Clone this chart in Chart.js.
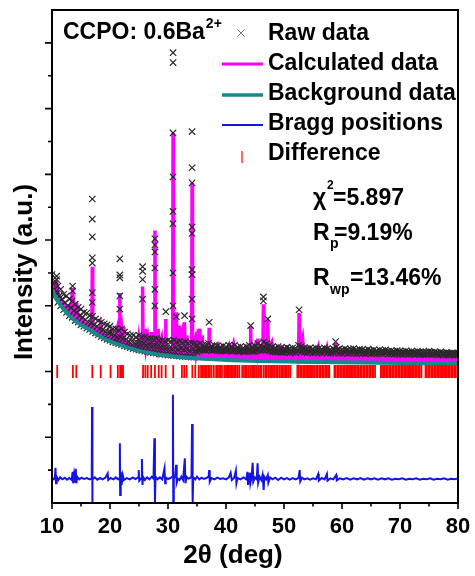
<!DOCTYPE html>
<html>
<head>
<meta charset="utf-8">
<script src="https://cdn.jsdelivr.net/npm/chart.js@4.4.1/dist/chart.umd.min.js"></script>
<style>
  html, body { margin: 0; padding: 0; background: #fff; }
  #wrap { width: 475px; height: 576px; }
</style>
</head>
<body>
<div id="wrap"><canvas id="c" width="475" height="576"></canvas></div>
<script>
// ---------- axis ticks ----------
const xMajorTicks = [10, 20, 30, 40, 50, 60, 70, 80];
const xMinorTicks = [15, 25, 35, 45, 55, 65, 75];
const yMajorTicks = [2, 4, 6, 8, 10, 12, 14];
const yMinorTicks = [1, 3, 5, 7, 9, 11, 13];

// ---------- Raw data (dense band: low / high / middle scatter levels) ----------
const rawBandX = [10,10.5,11,11.5,12,12.5,13,13.5,14,14.5,15,15.5,16,16.5,17,17.5,18,18.5,19,19.5,
  20,20.5,21,21.5,22,22.5,23,23.5,24,24.5,25,25.5,26,26.5,27,27.5,28,28.5,29,29.5,
  30,30.5,31,31.5,32,32.5,33,33.5,34,34.5,35,35.5,36,36.5,37,37.5,38,38.5,39,39.5,
  40,40.5,41,41.5,42,42.5,43,43.5,44,44.5,45,45.5,46,46.5,47,47.5,48,48.5,49,49.5,
  50,50.5,51,51.5,52,52.5,53,53.5,54,54.5,55,55.5,56,56.5,57,57.5,58,58.5,59,59.5,
  60,60.5,61,61.5,62,62.5,63,63.5,64,64.5,65,65.5,66,66.5,67,67.5,68,68.5,69,69.5,
  70,70.5,71,71.5,72,72.5,73,73.5,74,74.5,75,75.5,76,76.5,77,77.5,78,78.5,79,79.5,80];
const rawBandLo = [6.45,6.3,6.1,6.0,5.88,5.8,5.7,5.65,5.55,5.5,5.42,5.38,5.32,5.28,5.22,5.17,5.12,5.06,5.02,4.98,
  4.95,4.9,4.88,4.85,4.82,4.78,4.76,4.73,4.7,4.68,4.66,4.64,4.62,4.6,4.58,4.57,4.56,4.54,4.53,4.52,
  4.5,4.5,4.49,4.48,4.47,4.46,4.46,4.45,4.44,4.44,4.6,4.65,4.65,4.65,4.66,4.64,4.65,4.63,4.62,4.64,
  4.62,4.64,4.62,4.63,4.61,4.62,4.6,4.62,4.63,4.6,4.62,4.65,4.63,4.66,4.65,4.62,4.6,4.59,4.6,4.58,
  4.58,4.59,4.57,4.58,4.57,4.62,4.6,4.58,4.57,4.58,4.56,4.58,4.57,4.56,4.58,4.57,4.55,4.57,4.58,4.56,
  4.55,4.57,4.55,4.56,4.56,4.54,4.56,4.55,4.54,4.56,4.54,4.55,4.53,4.55,4.54,4.55,4.53,4.54,4.52,4.54,
  4.53,4.52,4.53,4.52,4.53,4.51,4.53,4.52,4.51,4.52,4.53,4.51,4.52,4.5,4.52,4.5,4.51,4.5,4.51,4.5,4.51];
const rawBandHi = [6.95,6.75,6.6,6.5,6.35,6.3,6.2,6.15,6.05,5.95,5.9,5.8,5.78,5.7,5.68,5.6,5.55,5.5,5.45,5.42,
  5.38,5.3,5.3,5.25,5.3,5.2,5.15,5.1,5.1,5.05,5.1,5.05,5.05,5.0,5.0,4.98,5.0,4.95,4.95,4.92,
  4.95,4.92,4.95,4.9,4.92,4.88,4.9,4.86,4.88,4.85,4.82,4.85,4.8,4.82,4.85,4.78,4.8,4.78,4.75,4.78,
  4.75,4.8,4.76,4.8,4.74,4.76,4.72,4.76,4.8,4.74,4.78,4.85,4.8,4.9,4.85,4.8,4.75,4.72,4.76,4.72,
  4.7,4.74,4.7,4.72,4.7,4.8,4.76,4.72,4.7,4.72,4.68,4.72,4.7,4.68,4.72,4.7,4.66,4.7,4.74,4.68,
  4.66,4.7,4.66,4.68,4.7,4.65,4.68,4.66,4.64,4.68,4.64,4.66,4.62,4.66,4.64,4.66,4.62,4.64,4.6,4.64,
  4.62,4.6,4.63,4.6,4.62,4.58,4.62,4.6,4.58,4.6,4.62,4.58,4.6,4.57,4.6,4.56,4.58,4.55,4.57,4.55,4.56];
const rawMidX = [10.25,10.75,11.25,11.75,12.25,12.75,13.25,13.75,14.25,14.75,15.25,15.75,16.25,16.75,17.25,17.75,18.25,18.75,19.25,19.75,
  20.25,20.75,21.25,21.75,22.25,22.75,23.25,23.75,24.25,24.75,25.25,25.75,26.25,26.75,27.25,27.75,28.25,28.75,29.25,29.75,
  30.25,30.75,31.25,31.75,32.25,32.75,33.25,33.75,34.25,34.75,35.25,35.75,36.25,36.75,37.25,37.75,38.25,38.75,39.25,39.75,
  40.25,40.75,41.25,41.75,42.25,42.75,43.25,43.75,44.25,44.75,45.25,45.75,46.25,46.75,47.25,47.75,48.25,48.75,49.25,49.75,
  50.25,50.75,51.25,51.75,52.25,52.75,53.25,53.75,54.25,54.75,55.25,55.75,56.25,56.75,57.25,57.75,58.25,58.75,59.25,59.75,
  60.25,60.75,61.25,61.75,62.25,62.75,63.25,63.75,64.25,64.75,65.25,65.75,66.25,66.75,67.25,67.75,68.25,68.75,69.25,69.75,
  70.25,70.75,71.25,71.75,72.25,72.75,73.25,73.75,74.25,74.75,75.25,75.75,76.25,76.75,77.25,77.75,78.25,78.75,79.25,79.75];
const rawMidY = [6.65,6.45,6.3,6.2,6.1,6.0,5.95,5.85,5.8,5.7,5.65,5.58,5.5,5.48,5.42,5.38,5.3,5.27,5.22,5.2,
  5.12,5.1,5.05,5.05,5.0,4.98,4.92,4.92,4.88,4.87,4.85,4.84,4.8,4.8,4.78,4.78,4.76,4.74,4.73,4.72,
  4.72,4.7,4.72,4.68,4.7,4.67,4.68,4.65,4.66,4.64,4.66,4.68,4.66,4.69,4.7,4.66,4.68,4.65,4.64,4.66,
  4.64,4.67,4.64,4.66,4.62,4.64,4.61,4.64,4.67,4.62,4.65,4.7,4.67,4.73,4.7,4.66,4.62,4.61,4.63,4.6,
  4.65,4.67,4.64,4.66,4.64,4.72,4.69,4.66,4.64,4.66,4.63,4.66,4.64,4.63,4.66,4.64,4.61,4.64,4.67,4.63,
  4.62,4.64,4.61,4.63,4.64,4.6,4.63,4.61,4.6,4.63,4.6,4.61,4.58,4.61,4.6,4.61,4.58,4.6,4.57,4.6,
  4.58,4.57,4.59,4.57,4.58,4.56,4.58,4.57,4.56,4.57,4.58,4.56,4.57,4.55,4.57,4.55,4.56,4.54,4.55,4.54];
// Raw data points standing above the band on the peaks
const rawPeakX = [10.8,10.8,13.55,13.55,16.95,16.95,16.95,16.95,16.95,16.95,16.95,20.1,
  21.7,21.7,21.7,21.7,21.7,25.62,25.62,25.62,25.62,27.75,27.75,27.75,27.75,27.75,27.75,29.62,
  30.87,30.87,30.87,30.87,30.87,30.87,30.87,30.87,31.45,32.85,
  34.15,34.15,34.15,34.15,34.15,34.15,34.15,34.15,34.15,37.1,44.25,46.45,46.45,47.2,52.6,58.9];
const rawPeakY = [6.9,6.8,6.6,6.45,9.25,8.64,8.1,7.46,7.3,6.4,6.1,5.2,
  7.43,6.94,6.85,6.3,5.9,7.19,7.05,6.8,6.2,8.04,7.85,7.64,7.15,6.5,6.0,5.82,
  13.7,13.4,11.26,9.92,8.87,8.5,7.0,6.0,5.67,5.7,
  11.3,10.2,9.74,8.4,8.2,7.1,6.95,6.2,5.6,5.5,5.4,6.27,6.15,5.6,5.88,4.91];

// ---------- Calculated profile ----------
const calcX = [10.0,10.3,10.55,10.7,10.8,10.9,11.2,11.6,12.0,12.5,
  13.0,13.3,13.45,13.55,13.65,13.9,14.15,14.25,14.4,14.8,
  15.3,15.8,16.3,16.87,16.95,17.03,17.6,18.2,18.4,18.6,
  19.2,19.8,20.1,20.3,20.8,21.25,21.4,21.63,21.7,21.77,
  22.0,22.1,22.25,22.4,23.0,23.6,24.2,24.8,24.95,25.1,
  25.55,25.62,25.69,26.1,26.25,26.5,26.65,27.0,27.1,27.2,
  27.68,27.75,27.82,28.3,28.45,28.9,29.05,29.56,29.62,29.68,
  30.3,30.8,30.87,30.94,31.39,31.45,31.51,32.0,32.15,32.4,
  32.55,32.85,32.95,33.25,33.4,34.08,34.15,34.22,34.7,34.85,
  35.35,35.5,35.9,36.05,36.6,37.03,37.1,37.17,37.8,38.1,
  38.6,38.9,39.5,39.8,40.5,40.8,41.3,41.6,42.3,42.6,
  43.4,44.17,44.25,44.33,45.0,45.3,45.5,45.7,46.37,46.45,
  46.55,47.12,47.2,47.3,47.9,48.2,48.8,49.0,49.7,50.0,
  50.6,50.9,51.5,52.52,52.6,52.68,53.2,53.4,54.0,54.3,
  55.0,55.4,55.9,56.1,56.8,57.1,57.4,57.6,58.8,58.9,
  59.0,59.8,60.2,61.0,61.4,62.0,62.4,63.0,63.4,64.2,
  64.6,65.3,65.7,66.5,67.2,67.6,68.4,68.8,69.5,69.9,
  70.7,71.1,71.9,72.3,73.2,73.6,74.5,75.3,75.7,76.6,
  77.0,77.9,78.4,79.2,80.0];
const calcY = [6.75,6.55,6.5,6.6,6.77,6.5,6.3,6.2,6.05,5.95,
  5.85,5.95,6.3,6.54,6.2,5.95,6.05,6.1,5.8,5.62,
  5.55,5.45,5.42,5.38,7.19,5.35,5.3,5.22,5.4,5.18,
  5.1,5.04,5.2,5.0,4.97,5.3,4.98,5.0,6.39,5.0,
  5.25,4.95,5.35,4.92,4.86,4.82,4.78,4.78,5.0,4.75,
  4.75,6.59,4.8,5.3,4.75,5.0,4.72,4.75,5.2,4.72,
  4.72,8.29,4.75,5.3,4.7,5.0,4.7,4.75,5.6,4.7,
  4.68,4.7,11.26,4.8,4.75,5.8,4.75,5.4,4.68,5.0,
  4.66,5.5,4.66,5.1,4.65,4.65,9.74,4.7,5.0,4.63,
  5.3,4.62,5.1,4.6,4.75,4.6,5.33,4.6,4.75,4.58,
  4.78,4.57,4.7,4.56,4.8,4.55,4.85,4.55,4.7,4.54,
  4.75,4.53,5.36,4.53,4.8,4.55,5.0,4.55,4.65,6.05,
  4.7,4.7,5.57,4.7,4.9,4.55,4.75,4.75,4.75,4.52,
  4.7,4.52,4.6,4.5,5.78,4.6,5.0,4.5,4.7,4.5,
  4.6,4.5,4.75,4.48,4.62,4.48,4.7,4.48,4.55,4.87,
  4.5,4.6,4.47,4.65,4.47,4.6,4.46,4.62,4.46,4.6,
  4.45,4.58,4.45,4.5,4.62,4.44,4.56,4.44,4.6,4.43,
  4.55,4.43,4.58,4.42,4.55,4.42,4.5,4.56,4.42,4.55,
  4.41,4.5,4.41,4.5,4.42];

// ---------- Background ----------
const bgX = [10,10.5,11,12,13,14,15,16,17,18,19,20,21,22,23,24,25,26,27,28,29,30,32,34,36,38,40,44,48,52,60,70,80];
const bgY = [6.5,6.3,6.15,5.9,5.7,5.54,5.42,5.32,5.21,5.1,5.0,4.92,4.85,4.79,4.73,4.68,4.63,4.59,4.56,4.53,4.5,4.48,4.44,4.41,4.39,4.37,4.35,4.33,4.31,4.3,4.28,4.26,4.25];

// ---------- Bragg reflections ----------
const braggX = [10.9,13.6,14.2,16.95,18.4,20.1,21.35,21.75,22.05,22.25,25.7,26.1,26.5,27.1,27.75,28.4,28.9,29.6,30.9,
  32.4,32.8,33.2,34.2,34.7,35.3,35.7,35.9,36.2,36.4,36.7,37.0,37.2,37.5,37.9,38.3,38.5,38.8,39.0,39.3,39.7,
  40.0,40.2,40.5,40.7,41.0,41.2,41.5,41.7,42.0,42.3,42.8,43.1,43.4,43.6,43.9,44.2,44.5,44.8,45.0,45.3,
  45.6,45.9,46.1,46.5,46.8,47.0,47.3,47.6,47.9,48.1,48.4,48.7,48.9,49.2,49.5,49.7,50.0,50.3,50.5,50.8,
  51.1,52.3,52.5,52.8,53.0,53.3,53.5,53.8,54.0,54.3,54.5,54.8,55.0,55.3,55.6,55.8,56.1,56.3,56.6,56.8,
  57.1,57.3,57.6,57.8,58.7,58.9,59.2,59.4,59.7,59.9,60.2,60.4,60.7,60.9,61.2,61.4,61.7,61.9,62.2,62.4,
  62.7,62.9,63.2,63.4,63.7,63.9,64.2,64.4,64.7,64.9,65.2,65.4,65.7,66.7,66.9,67.2,67.4,67.7,67.9,68.2,
  68.4,68.7,68.9,69.2,69.4,69.7,69.9,70.2,70.4,70.7,70.9,71.2,71.4,71.7,71.9,72.2,72.4,72.7,72.9,73.2,
  73.4,73.7,74.4,74.6,74.9,75.1,75.4,75.6,75.9,76.1,76.4,76.6,76.9,77.1,77.4,77.6,77.9,78.1,78.4,78.6,
  78.9,79.1,79.4,79.6,79.9];
const braggLevel = 4.0;

// ---------- Difference curve ----------
const diffX = [10.0,10.3,10.5,10.6,10.7,10.8,11.1,11.4,11.8,12.2,12.6,13.0,13.4,13.55,13.65,13.8,13.95,14.1,14.2,14.35,
  14.7,15.1,15.5,16.0,16.5,16.85,16.9,16.95,17.0,17.4,17.8,18.3,18.7,19.2,19.6,19.7,20.1,20.6,21.0,21.4,
  21.6,21.7,21.75,21.85,22.0,22.2,22.4,22.9,23.4,23.9,24.4,24.85,24.95,25.05,25.4,25.5,25.6,25.7,26.0,26.4,
  26.8,27.2,27.5,27.65,27.75,27.85,28.2,28.6,29.0,29.4,29.5,29.6,30.0,30.4,30.75,30.85,30.92,31.0,31.25,31.4,
  31.5,31.7,32.0,32.3,32.6,32.9,33.0,33.2,33.5,33.8,34.05,34.15,34.25,34.35,34.7,35.0,35.4,35.8,36.2,36.6,
  37.0,37.1,37.2,37.5,38.0,38.5,39.0,39.5,40.0,40.5,40.8,41.0,41.4,41.7,41.8,42.0,42.5,43.0,43.5,43.7,
  43.8,44.1,44.2,44.4,44.6,44.7,45.0,45.3,45.45,45.55,45.8,46.1,46.3,46.5,46.6,46.9,47.2,47.3,47.6,48.0,
  48.5,49.0,49.5,50.0,50.5,51.0,51.5,52.0,52.5,52.7,52.8,53.1,53.5,54.0,54.5,55.0,55.5,55.9,56.0,56.5,
  57.0,57.4,57.5,58.0,58.5,59.0,59.1,59.6,60.2,60.8,61.4,62.0,62.6,63.2,63.8,64.4,65.0,65.6,66.2,66.8,
  67.4,68.0,68.6,69.2,69.8,70.4,71.0,71.6,72.2,72.8,73.4,74.0,74.6,75.2,75.8,76.4,77.0,77.6,78.2,78.8,
  79.4,80.0];
const diffY = [0.75,0.72,0.78,1.07,0.6,0.8,0.7,0.78,0.72,0.77,0.71,0.76,0.7,0.95,0.6,0.85,0.62,1.04,0.6,0.8,
  0.72,0.77,0.73,0.76,0.72,0.75,2.92,0.0,0.72,0.78,0.71,0.76,0.72,0.77,0.9,0.7,0.76,0.72,0.78,0.72,
  0.75,1.82,0.24,0.95,0.55,0.85,0.7,0.76,0.72,0.77,0.73,0.78,1.0,0.68,0.75,1.34,0.55,0.8,0.7,0.78,
  0.72,0.8,0.74,1.97,0.03,0.8,0.72,0.78,0.72,1.06,0.6,0.78,0.73,0.76,0.8,3.29,-0.3,0.75,0.8,1.16,
  0.62,0.74,0.7,0.8,0.7,1.36,0.6,0.8,0.74,0.76,0.8,2.4,0.03,0.78,0.72,0.8,0.72,0.77,0.73,0.76,
  0.8,1.0,0.65,0.76,0.72,0.77,0.73,0.75,0.72,0.78,0.92,0.7,0.76,0.98,0.6,0.76,0.72,0.78,0.72,0.95,
  0.55,0.92,0.6,0.78,1.22,0.65,0.78,0.72,1.21,0.62,0.8,0.7,0.85,0.4,0.8,0.72,0.85,0.62,0.78,0.72,
  0.77,0.7,0.77,0.72,0.76,0.71,0.76,0.72,0.76,1.0,0.66,0.77,0.72,0.75,0.71,0.75,0.72,0.88,0.68,0.76,
  0.72,0.88,0.68,0.75,0.72,0.85,0.69,0.75,0.72,0.76,0.71,0.75,0.72,0.76,0.71,0.75,0.72,0.75,0.71,0.75,
  0.72,0.75,0.71,0.74,0.72,0.75,0.71,0.74,0.72,0.75,0.71,0.74,0.72,0.75,0.71,0.74,0.72,0.75,0.71,0.74,
  0.72,0.75];

// ---------- build datasets ----------
const pts = (xs, ys) => xs.map((x, i) => ({ x: x, y: ys[i] }));
const rawPoints = pts(rawBandX, rawBandLo).concat(pts(rawBandX, rawBandHi), pts(rawMidX, rawMidY), pts(rawPeakX, rawPeakY));
const braggPoints = braggX.map(x => ({ x: x, y: braggLevel }));

const FONT = '"Liberation Sans", Arial, sans-serif';
const MAGENTA = '#ff00ff', TEAL = '#168a8a', BLUE = '#1414e6', RED = '#ff0000', RAWC = '#2a2a2a';

const decor = {
  id: 'decor',
  afterDraw(chart) {
    const { ctx, chartArea: a, scales: { x, y } } = chart;
    ctx.save();
    // frame
    ctx.strokeStyle = '#000';
    ctx.lineWidth = 2;
    ctx.strokeRect(a.left, a.top, a.right - a.left, a.bottom - a.top);
    // ticks
    ctx.lineWidth = 1.6;
    ctx.beginPath();
    xMajorTicks.forEach(v => { const p = x.getPixelForValue(v); ctx.moveTo(p, a.bottom); ctx.lineTo(p, a.bottom + 6); });
    xMinorTicks.forEach(v => { const p = x.getPixelForValue(v); ctx.moveTo(p, a.bottom); ctx.lineTo(p, a.bottom + 3.5); });
    yMajorTicks.forEach(v => { const p = y.getPixelForValue(v); ctx.moveTo(a.left, p); ctx.lineTo(a.left - 7, p); });
    yMinorTicks.forEach(v => { const p = y.getPixelForValue(v); ctx.moveTo(a.left, p); ctx.lineTo(a.left - 4, p); });
    ctx.stroke();

    ctx.fillStyle = '#000';
    ctx.textBaseline = 'alphabetic';
    ctx.textAlign = 'left';
    // sample label
    ctx.font = 'bold 23px ' + FONT;
    ctx.fillText('CCPO: 0.6Ba', 63, 39);
    const w = ctx.measureText('CCPO: 0.6Ba').width;
    ctx.font = 'bold 14px ' + FONT;
    ctx.fillText('2+', 63 + w + 1, 28);

    // legend
    ctx.strokeStyle = '#777';
    ctx.lineWidth = 1;
    ctx.beginPath();
    ctx.moveTo(237.5, 29.5); ctx.lineTo(244.5, 36.5);
    ctx.moveTo(244.5, 29.5); ctx.lineTo(237.5, 36.5);
    ctx.stroke();
    ctx.lineWidth = 3; ctx.strokeStyle = MAGENTA;
    ctx.beginPath(); ctx.moveTo(222, 64); ctx.lineTo(263, 64); ctx.stroke();
    ctx.lineWidth = 3.5; ctx.strokeStyle = TEAL;
    ctx.beginPath(); ctx.moveTo(222, 95); ctx.lineTo(263, 95); ctx.stroke();
    ctx.lineWidth = 2; ctx.strokeStyle = BLUE;
    ctx.beginPath(); ctx.moveTo(222, 125); ctx.lineTo(263, 125); ctx.stroke();
    ctx.lineWidth = 1.2; ctx.strokeStyle = RED;
    ctx.beginPath(); ctx.moveTo(242, 151); ctx.lineTo(242, 163); ctx.stroke();

    ctx.font = 'bold 23px ' + FONT;
    ctx.fillText('Raw data', 268, 40);
    ctx.fillText('Calculated data', 268, 70);
    ctx.fillText('Background data', 268, 100);
    ctx.fillText('Bragg positions', 268, 130);
    ctx.fillText('Difference', 268, 160);

    // fit statistics
    ctx.fillText('\u03C7', 313, 205);
    ctx.fillText('=5.897', 333, 205);
    ctx.fillText('R', 313, 240);
    ctx.fillText('=9.19%', 334, 240);
    ctx.fillText('R', 313, 285);
    ctx.fillText('=13.46%', 350, 285);
    ctx.font = 'bold 12px ' + FONT;
    ctx.fillText('2', 327, 189);
    ctx.font = 'bold 14px ' + FONT;
    ctx.fillText('p', 330, 248);
    ctx.fillText('wp', 330, 294);

    // axis titles
    ctx.font = 'bold 26px ' + FONT;
    ctx.textAlign = 'center';
    ctx.fillText('2\u03B8 (deg)', 233, 563);
    ctx.save();
    ctx.translate(32, 272);
    ctx.rotate(-Math.PI / 2);
    ctx.fillText('Intensity (a.u.)', 0, 0);
    ctx.restore();
    ctx.restore();
  }
};

new Chart(document.getElementById('c'), {
  type: 'scatter',
  data: {
    datasets: [
      { label: 'Calculated data', data: pts(calcX, calcY), showLine: true, pointRadius: 0,
        borderColor: MAGENTA, borderWidth: 3.5, backgroundColor: MAGENTA, fill: 2, order: 5 },
      { label: 'Raw data', data: rawPoints, showLine: false, pointStyle: 'crossRot', pointRadius: 4.5,
        borderColor: RAWC, backgroundColor: RAWC, pointBorderWidth: 1.2, order: 4 },
      { label: 'Background data', data: pts(bgX, bgY), showLine: true, pointRadius: 0,
        borderColor: TEAL, borderWidth: 4, cubicInterpolationMode: 'monotone', order: 3 },
      { label: 'Bragg positions', data: braggPoints, showLine: false, pointStyle: 'line', rotation: 90,
        pointRadius: 6.5, borderColor: RED, pointBorderWidth: 1.8, order: 2 },
      { label: 'Difference', data: pts(diffX, diffY), showLine: true, pointRadius: 0,
        borderColor: BLUE, borderWidth: 2, clip: 0, order: 1 }
    ]
  },
  options: {
    responsive: false,
    animation: false,
    devicePixelRatio: 1,
    layout: { autoPadding: false, padding: { top: 10, right: 17, left: 0, bottom: 0 } },
    plugins: { legend: { display: false }, tooltip: { enabled: false }, filler: { propagate: false } },
    elements: { line: { tension: 0 } },
    scales: {
      x: {
        type: 'linear', min: 10, max: 80,
        grid: { display: false },
        border: { display: true, color: '#000', width: 2 },
        ticks: { stepSize: 10, autoSkip: false, maxRotation: 0, padding: 3, color: '#000',
          font: { family: FONT, size: 22, weight: 'bold' } },
        afterFit: s => { s.height = 73; }
      },
      y: {
        type: 'linear', min: 0, max: 15,
        grid: { display: false },
        border: { display: true, color: '#000', width: 2 },
        ticks: { display: false },
        afterFit: s => { s.width = 52; }
      }
    }
  },
  plugins: [decor]
});
</script>
</body>
</html>
